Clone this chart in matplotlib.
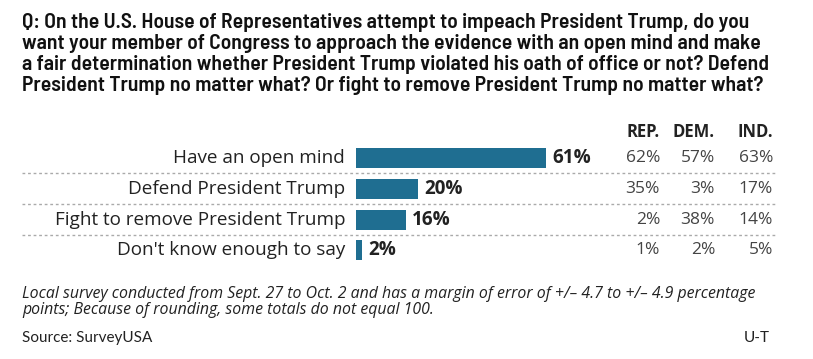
import matplotlib
matplotlib.use('Agg')
import matplotlib.pyplot as plt
import matplotlib.transforms as mtrans

# data
answers = ['Have an open mind', 'Defend President Trump',
           'Fight to remove President Trump', "Don't know enough to say"]
overall = [61, 20, 16, 2]
groups = ['REP.', 'DEM.', 'IND.']
rep = [62, 35, 2, 1]
dem = [57, 3, 38, 2]
ind = [63, 17, 14, 5]

title = ('Q: On the U.S. House of Representatives attempt to impeach President Trump, do you\n'
         'want your member of Congress to approach the evidence with an open mind and make\n'
         'a fair determination whether President Trump violated his oath of office or not? Defend\n'
         'President Trump no matter what? Or fight to remove President Trump no matter what?')
note = ('Local survey conducted from Sept. 27 to Oct. 2 and has a margin of error of +/\u2013 4.7 to +/\u2013 4.9 percentage\n'
        'points; Because of rounding, some totals do not equal 100.')
source = 'Source: SurveyUSA'
credit = 'U-T'

W, H = 813, 359
narrow = ['Barlow Semi Condensed', 'DejaVu Sans']
plain = ['Open Sans', 'DejaVu Sans']
small = ['Lato', 'DejaVu Sans']
bar_color = '#1f6e91'
ink = '#222222'

fig = plt.figure(figsize=(W / 100, H / 100), dpi=100)
fig.patch.set_facecolor('white')

# bar axes: x=0 at px 356, 61% at px 546; rows ~30.8 px apart, first at y=158
row_h = 30.8
top = 158 - row_h / 2
ax = fig.add_axes([356 / W, 1 - (top + 4 * row_h) / H, 190 / W, 4 * row_h / H])
ax.set_xlim(0, 61)
ax.set_ylim(3.5, -0.5)
ax.axis('off')

ypos = list(range(len(answers)))
ax.barh(ypos, overall, height=0.65, color=bar_color)

fig_x = mtrans.blended_transform_factory(fig.transFigure, ax.transData)

for i, (lab, v) in enumerate(zip(answers, overall)):
    ax.text(345 / W, i, lab, transform=fig_x, ha='right', va='center',
            fontsize=13.6, family=plain, color=ink)
    ax.text(v + 2, i, f'{v}%', ha='left', va='center', fontsize=13.6,
            fontweight='bold', family=plain, color=ink)

# table columns (right aligned)
col_x = [660, 715, 773]
for cx, g, vals in zip(col_x, groups, [rep, dem, ind]):
    ax.text(cx / W, -0.84, g, transform=fig_x, ha='right', va='center',
            fontsize=12, fontweight='bold', family=plain, color=ink)
    for i, v in enumerate(vals):
        ax.text(cx / W, i, f'{v}%', transform=fig_x, ha='right', va='center',
                fontsize=12.5, family=plain, color='#444444')

# dotted separators
for i in range(len(answers) - 1):
    ax.plot([22 / W, 777 / W], [i + 0.5, i + 0.5], transform=fig_x,
            color='#aaaaaa', lw=1, ls=(0, (2, 2)), clip_on=False)

fig.text(22 / W, 1 - 13 / H, title, ha='left', va='top', fontsize=15.6,
         fontweight='semibold', family=narrow, color='#111111', linespacing=1.13)
fig.text(22 / W, 1 - 302 / H, note, ha='left', va='center', fontsize=11.4,
         style='italic', family=plain, color=ink, linespacing=0.98)
fig.text(22 / W, 1 - 338 / H, source, ha='left', va='center', fontsize=11,
         family=small, color=ink)
fig.text(770 / W, 1 - 338 / H, credit, ha='right', va='center', fontsize=11,
         family=small, color=ink)

fig.savefig('out.png', dpi=100, facecolor='white')
